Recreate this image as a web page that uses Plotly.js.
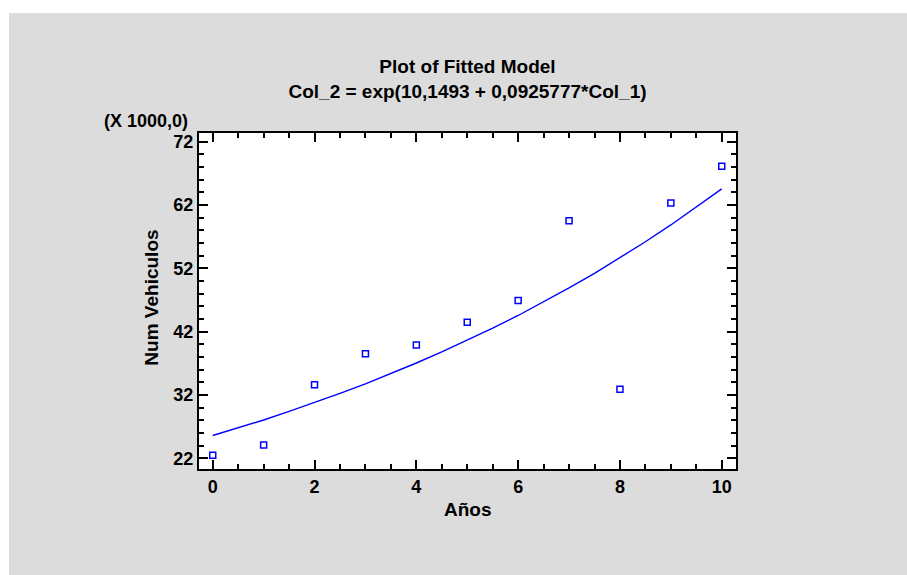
<!DOCTYPE html>
<html>
<head>
<meta charset="utf-8">
<script src="https://cdn.plot.ly/plotly-3.0.1.min.js"></script>
<style>
  html, body { margin: 0; padding: 0; background: #ffffff; width: 907px; height: 575px; overflow: hidden; }
  #chart { position: absolute; left: 9px; top: 13px; width: 898px; height: 562px; }
</style>
</head>
<body>
<div id="chart"></div>
<script>
// Observed data (Años vs Num Vehiculos)
const anos = [0, 1, 2, 3, 4, 5, 6, 7, 8, 9, 10];
const numVehiculos = [22500, 24100, 33600, 38500, 39900, 43500, 46900, 59500, 32900, 62300, 68100];

// Fitted model curve
const fitX = [0, 0.5, 1, 1.5, 2, 2.5, 3, 3.5, 4, 4.5, 5, 5.5, 6, 6.5, 7, 7.5, 8, 8.5, 9, 9.5, 10];
const fitY = [25600, 26800, 28050, 29400, 30800, 32250, 33750, 35350, 37050, 38800, 40650,
              42550, 44550, 46700, 48900, 51200, 53650, 56200, 58850, 61650, 64550];

// Tick labels
const xTickVals = [0, 2, 4, 6, 8, 10];
const xTickText = ['0', '2', '4', '6', '8', '10'];
const yTickVals = [22000, 32000, 42000, 52000, 62000, 72000];
const yTickText = ['22', '32', '42', '52', '62', '72'];

const titleLine1 = 'Plot of Fitted Model';
const titleLine2 = 'Col_2 = exp(10,1493 + 0,0925777*Col_1)';
const xTitle = 'Años';
const yTitle = 'Num Vehiculos';
const yScaleNote = '(X 1000,0)';

const FONT = 'Arial, "Liberation Sans", sans-serif';
const BLUE = '#0000ff';

const traces = [
  {
    x: fitX, y: fitY, type: 'scatter', mode: 'lines',
    line: { color: BLUE, width: 1.4 },
    hoverinfo: 'skip', showlegend: false
  },
  {
    x: anos, y: numVehiculos, type: 'scatter', mode: 'markers',
    marker: { symbol: 'square-open', size: 6, color: BLUE, line: { color: BLUE, width: 1.5 } },
    showlegend: false
  }
];

const axisCommon = {
  showline: true, linecolor: '#000', linewidth: 2,
  mirror: 'ticks', ticks: 'inside', ticklen: 9, tickwidth: 2, tickcolor: '#000',
  showgrid: false, zeroline: false,
  tickfont: { family: FONT, size: 18, color: '#000', weight: 'bold' },
  tickmode: 'array'
};

const layout = {
  width: 898, height: 562,
  paper_bgcolor: '#dcdcdc', plot_bgcolor: '#ffffff',
  margin: { l: 190, r: 171, t: 120, b: 106 },
  font: { family: FONT, color: '#000' },
  title: {
    text: '<b>' + titleLine1 + '</b><br><b>' + titleLine2 + '</b>',
    font: { family: FONT, size: 19, color: '#000' },
    x: 0.5, xref: 'paper', xanchor: 'center',
    y: 1.153, yref: 'paper', yanchor: 'middle'
  },
  xaxis: Object.assign({}, axisCommon, {
    range: [-0.27, 10.28],
    tickvals: xTickVals, ticktext: xTickText,
    minor: { dtick: 0.5, tick0: 0, ticks: 'inside', ticklen: 5, tickwidth: 2, tickcolor: '#000', showgrid: false }
  }),
  yaxis: Object.assign({}, axisCommon, {
    range: [20310, 73370],
    tickvals: yTickVals, ticktext: yTickText,
    minor: { dtick: 2000, tick0: 0, ticks: 'inside', ticklen: 5, tickwidth: 2, tickcolor: '#000', showgrid: false }
  }),
  annotations: [
    {
      text: '<b>' + xTitle + '</b>', xref: 'paper', yref: 'paper',
      x: 0.5, y: -0.122, xanchor: 'center', yanchor: 'middle', showarrow: false,
      font: { family: FONT, size: 19, color: '#000' }
    },
    {
      text: '<b>' + yTitle + '</b>', xref: 'paper', yref: 'paper', textangle: -90,
      x: -0.0875, y: 0.51, xanchor: 'center', yanchor: 'middle', showarrow: false,
      font: { family: FONT, size: 19, color: '#000' }
    },
    {
      text: '<b>' + yScaleNote + '</b>', xref: 'paper', yref: 'paper',
      x: -0.0168, y: 1.0357, xanchor: 'right', yanchor: 'middle', showarrow: false,
      font: { family: FONT, size: 18, color: '#000' }
    }
  ]
};

Plotly.newPlot('chart', traces, layout, { displayModeBar: false, staticPlot: true });
</script>
</body>
</html>
